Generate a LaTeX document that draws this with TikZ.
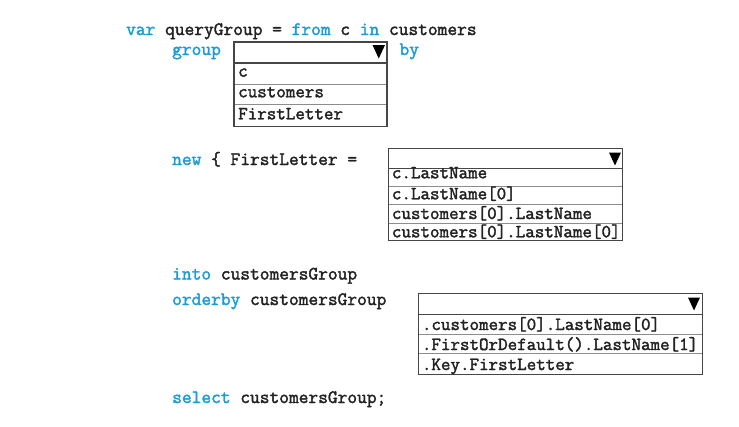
\documentclass[tikz,border=0pt]{standalone}
\usepackage{fontspec}
\newfontfamily\codefont{Latin Modern Mono}[FakeBold=2]
\definecolor{kw}{RGB}{28,156,214}
\definecolor{ink}{RGB}{34,34,34}
\definecolor{frame}{RGB}{70,70,70}
\definecolor{sep}{RGB}{140,140,140}
\tikzset{
  code/.style={anchor=base west, inner sep=0pt, text=ink, font=\codefont\fontsize{18.9}{20}\selectfont},
  item/.style={anchor=base west, inner sep=0pt, text=ink, font=\codefont\fontsize{18.5}{20}\selectfont},
  boxframe/.style={draw=frame, line width=1.4pt},
  rowline/.style={draw=sep, line width=0.9pt},
  headline/.style={draw=frame, line width=1.4pt},
  droptri/.style={fill=black, draw=none},
}
\begin{document}
\begin{tikzpicture}[x=1pt,y=-1pt]
\useasboundingbox (0,0) rectangle (739,426);
% code lines
\node[code] (l1) at (126,35) {\textcolor{kw}{var} queryGroup = \textcolor{kw}{from} c \textcolor{kw}{in} customers};
\node[code, text=kw] (l2) at (172,55) {group};
\node[code, text=kw] (l2b) at (399.3,55) {by};
\node[code] (l3) at (172,165) {\textcolor{kw}{new} \{ FirstLetter =};
\node[code] (l4) at (172,279.5) {\textcolor{kw}{into} customersGroup};
\node[code] (l5) at (172,305) {\textcolor{kw}{orderby} customersGroup};
\node[code] (l6) at (172,403) {\textcolor{kw}{select} customersGroup;};
% box 1
\draw[rowline] (234,84) -- (387,84);
\draw[rowline] (234,104) -- (387,104);
\draw[headline] (234,63) -- (387,63);
\draw[boxframe] (234,42) rectangle (387,126.5);
\fill[droptri] (372.5,45) -- (385,45) -- (378.75,58.5) -- cycle;
\node[item] (b1a) at (238,76.7) {c};
\node[item] (b1b) at (238,97.3) {customers};
\node[item] (b1c) at (238,119.3) {FirstLetter};
% box 2
\draw[rowline] (388.3,186) -- (622.7,186);
\draw[rowline] (388.3,204.3) -- (622.7,204.3);
\draw[rowline] (388.3,223) -- (622.7,223);
\draw[headline] (388.3,168.3) -- (622.7,168.3);
\draw[boxframe] (388.3,148.3) rectangle (622.7,240.5);
\fill[droptri] (609,152.5) -- (621,152.5) -- (615,165.5) -- cycle;
\node[item] (b2a) at (391.7,178.3) {c.LastName};
\node[item] (b2b) at (391.7,199.3) {c.LastName[0]};
\node[item] (b2c) at (391.7,219) {customers[0].LastName};
\node[item] (b2d) at (391.7,237.3) {customers[0].LastName[0]};
% box 3
\draw[rowline] (418.3,334.3) -- (702.7,334.3);
\draw[rowline] (418.3,353.3) -- (702.7,353.3);
\draw[headline] (418.3,314.3) -- (702.7,314.3);
\draw[boxframe] (418.3,293.3) rectangle (702.7,374.3);
\fill[droptri] (688,297.5) -- (700,297.5) -- (694,310.5) -- cycle;
\node[item] (b3a) at (421.7,330) {.customers[0].LastName[0]};
\node[item] (b3b) at (421.7,350) {.FirstOrDefault().LastName[1]};
\node[item] (b3c) at (421.7,370) {.Key.FirstLetter};
\end{tikzpicture}
\end{document}
